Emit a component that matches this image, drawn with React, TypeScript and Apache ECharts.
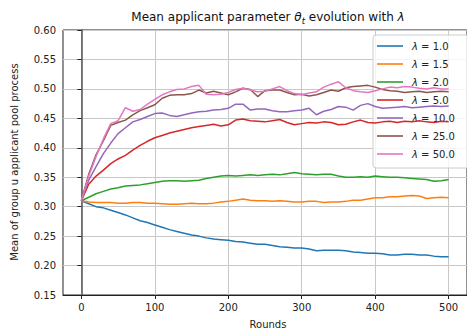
import React, { useEffect, useRef } from "react";
import * as echarts from "echarts";

const rounds = [0,10,20,30,40,50,60,70,80,90,100,110,120,130,140,150,160,170,180,190,200,210,220,230,240,250,260,270,280,290,300,310,320,330,340,350,360,370,380,390,400,410,420,430,440,450,460,470,480,490,500];

const lam1 = [0.310,0.305,0.300,0.298,0.294,0.290,0.286,0.281,0.276,0.273,0.269,0.265,0.261,0.258,0.255,0.252,0.250,0.247,0.245,0.244,0.243,0.241,0.240,0.238,0.236,0.236,0.234,0.232,0.231,0.230,0.230,0.228,0.225,0.226,0.226,0.226,0.225,0.223,0.222,0.221,0.221,0.220,0.218,0.218,0.219,0.219,0.218,0.218,0.216,0.215,0.215];
const lam15 = [0.310,0.308,0.307,0.307,0.307,0.306,0.306,0.307,0.307,0.306,0.306,0.305,0.304,0.304,0.305,0.306,0.305,0.305,0.306,0.308,0.309,0.311,0.313,0.311,0.310,0.310,0.309,0.310,0.309,0.308,0.308,0.309,0.309,0.307,0.308,0.308,0.309,0.311,0.311,0.313,0.315,0.315,0.317,0.317,0.318,0.319,0.318,0.314,0.315,0.316,0.315];
const lam2 = [0.310,0.316,0.322,0.326,0.330,0.332,0.335,0.336,0.337,0.339,0.341,0.343,0.344,0.344,0.343,0.344,0.345,0.348,0.350,0.352,0.353,0.352,0.353,0.354,0.353,0.354,0.355,0.354,0.356,0.358,0.356,0.355,0.354,0.355,0.355,0.352,0.350,0.350,0.351,0.350,0.352,0.351,0.350,0.350,0.349,0.348,0.347,0.346,0.343,0.344,0.346];
const lam5 = [0.310,0.338,0.352,0.362,0.373,0.381,0.387,0.396,0.404,0.411,0.417,0.421,0.425,0.428,0.431,0.434,0.436,0.438,0.440,0.437,0.439,0.447,0.449,0.446,0.445,0.444,0.446,0.448,0.443,0.439,0.441,0.443,0.442,0.444,0.443,0.439,0.440,0.444,0.447,0.443,0.442,0.444,0.445,0.443,0.445,0.444,0.446,0.444,0.443,0.445,0.444];
const lam10 = [0.310,0.345,0.368,0.390,0.408,0.424,0.434,0.444,0.448,0.453,0.458,0.459,0.455,0.453,0.456,0.459,0.461,0.462,0.464,0.465,0.467,0.474,0.474,0.464,0.466,0.466,0.463,0.461,0.461,0.463,0.464,0.467,0.456,0.462,0.465,0.470,0.469,0.464,0.472,0.475,0.470,0.467,0.468,0.469,0.470,0.468,0.469,0.470,0.471,0.470,0.471];
const lam25 = [0.310,0.355,0.388,0.412,0.438,0.443,0.447,0.456,0.463,0.468,0.473,0.484,0.489,0.490,0.490,0.492,0.498,0.493,0.496,0.493,0.490,0.495,0.501,0.499,0.487,0.497,0.498,0.498,0.494,0.490,0.491,0.488,0.490,0.494,0.498,0.496,0.502,0.504,0.505,0.506,0.503,0.499,0.497,0.496,0.494,0.495,0.496,0.494,0.495,0.496,0.495];
const lam50 = [0.310,0.352,0.385,0.415,0.441,0.446,0.468,0.462,0.465,0.474,0.482,0.490,0.495,0.499,0.500,0.504,0.506,0.491,0.490,0.491,0.494,0.499,0.501,0.498,0.495,0.496,0.500,0.504,0.497,0.492,0.490,0.493,0.495,0.503,0.508,0.512,0.502,0.497,0.495,0.494,0.497,0.500,0.503,0.502,0.504,0.503,0.501,0.500,0.502,0.500,0.500];

const lambdas = ["1.0", "1.5", "2.0", "5.0", "10.0", "25.0", "50.0"];
const seriesValues = [lam1, lam15, lam2, lam5, lam10, lam25, lam50];
const colors = ["#1f77b4", "#ff7f0e", "#2ca02c", "#d62728", "#9467bd", "#8c564b", "#e377c2"];
const xTicks = [0, 100, 200, 300, 400, 500];

const FONT = "DejaVu Sans";

export default function App() {
  const ref = useRef<HTMLDivElement>(null);
  useEffect(() => {
    if (!ref.current) return;
    const chart = echarts.init(ref.current, null, { renderer: "svg" });
    const series = seriesValues.map((vals, i) => ({
      name: lambdas[i],
      type: "line",
      data: rounds.map((r, j) => [r, vals[j]]),
      showSymbol: false,
      symbol: "none",
      lineStyle: { color: colors[i], width: 1.5 },
      itemStyle: { color: colors[i] },
      z: 3 + i,
    }));
    chart.setOption({
      animation: false,
      textStyle: { fontFamily: FONT },
      grid: {
        left: 63,
        top: 30,
        width: 411,
        height: 265,
        show: true,
        borderColor: "#222",
        borderWidth: 1,
        backgroundColor: "transparent",
      },
      xAxis: {
        type: "value",
        min: -25,
        max: 525,
        axisLine: { show: true, lineStyle: { color: "#222", width: 1 } },
        axisTick: { show: true, length: 4, customValues: xTicks, lineStyle: { color: "#222" } },
        axisLabel: { customValues: xTicks, color: "#222", fontSize: 10, margin: 7, fontFamily: FONT },
        splitLine: { show: true, customValues: xTicks, lineStyle: { color: "#c8c8c8", width: 1 } },
      },
      yAxis: {
        type: "value",
        min: 0.15,
        max: 0.6,
        interval: 0.05,
        axisLine: { show: true, lineStyle: { color: "#555", width: 1.5 } },
        axisTick: { show: true, length: 4, lineStyle: { color: "#222" } },
        axisLabel: {
          color: "#222",
          fontSize: 10,
          margin: 7,
          fontFamily: FONT,
          formatter: (v: number) => v.toFixed(2),
        },
        splitLine: { show: true, lineStyle: { color: "#c8c8c8", width: 1 } },
      },
      legend: {
        orient: "vertical",
        left: 373,
        top: 35,
        icon: "rect",
        itemWidth: 26,
        itemHeight: 1.6,
        itemGap: 6,
        padding: [5, 14, 8, 4],
        backgroundColor: "rgba(255,255,255,0.8)",
        borderColor: "#cccccc",
        borderWidth: 1,
        borderRadius: 3,
        data: lambdas.map((n, i) => ({ name: n, itemStyle: { color: colors[i] } })),
        formatter: (name: string) => "{i|λ}{n| = " + name + "}",
        textStyle: {
          color: "#222",
          fontSize: 10,
          lineHeight: 12,
          fontFamily: FONT,
          padding: [0, 0, 0, 4],
          rich: {
            i: { fontStyle: "italic", fontSize: 10, lineHeight: 12, fontFamily: FONT, color: "#222" },
            n: { fontSize: 10, lineHeight: 12, fontFamily: FONT, color: "#222" },
          },
        },
      },
      graphic: [
        {
          type: "text",
          x: 268,
          y: 17,
          style: {
            text: "{a|Mean applicant parameter }{i|θ}{s|t}{a| evolution with }{i|λ}",
            align: "center",
            verticalAlign: "middle",
            rich: {
              a: { fontSize: 12, fontFamily: FONT, fill: "#111" },
              i: { fontSize: 12, fontFamily: FONT, fontStyle: "italic", fill: "#111" },
              s: { fontSize: 8.5, fontFamily: FONT, fontStyle: "italic", fill: "#111", padding: [7, 0, 0, 0] },
            },
          },
        },
        {
          type: "text",
          x: 268,
          y: 324,
          style: { text: "Rounds", fontSize: 10, fontFamily: FONT, fill: "#222", align: "center", verticalAlign: "middle" },
        },
        {
          type: "text",
          x: 14,
          y: 162,
          rotation: Math.PI / 2,
          style: {
            text: "Mean of group u applicant pool process",
            fontSize: 10,
            fontFamily: FONT,
            fill: "#222",
            align: "center",
            verticalAlign: "middle",
          },
        },
      ],
      series,
    });
    return () => chart.dispose();
  }, []);
  return (
    <div
      ref={ref}
      style={{ position: "fixed", left: 0, top: 0, width: 467, height: 330, background: "#fff" }}
    />
  );
}
